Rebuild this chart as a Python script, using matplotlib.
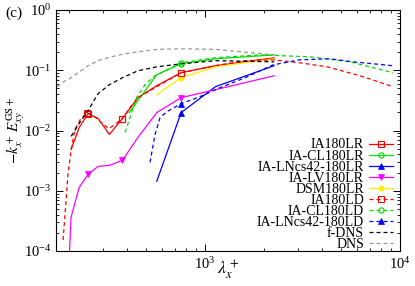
import numpy as np
import matplotlib
matplotlib.use("Agg")
import matplotlib.pyplot as plt

plt.rcParams['font.family'] = ['Liberation Serif', 'DejaVu Serif']
plt.rcParams['mathtext.fontset'] = 'stix'

# ---- data (lambda_x^+ , -k_x^+ E_xy^{GS+}) ----
lam_LR = [205.6, 226.2, 251.3, 282.8, 323.1, 377.0, 452.4, 565.5, 754.0, 1131.0, 2262.0]

ia180lr = [0.00485, 0.0112, 0.0191, 0.0158, 0.0086, 0.0158, 0.0351, 0.0554, 0.091, 0.119, 0.161]

lam_cl_lr = [408, 565.5, 754.0, 1131.0, 2262.0]
iacl180lr = [0.0198, 0.0843, 0.128, 0.155, 0.180]

lam_ln_lr = [565.5, 754.0, 1131.0, 2262.0]
ialn180lr = [0.00144, 0.0198, 0.0534, 0.119]

lam_lv_lr = [188.5, 205.6, 226.2, 251.3, 282.8, 323.1, 377.0, 452.4, 565.5, 754.0, 1131.0, 2262.0]
ialv180lr = [1e-6, 3.65e-4, 1.14e-3, 1.87e-3, 2.54e-3, 2.64e-3, 3.19e-3, 7.66e-3, 0.0198, 0.0351, 0.0476, 0.081]

lam_dsm = [565.5, 754.0, 1131.0, 2262.0]
dsm180lr = [0.0394, 0.0751, 0.114, 0.155]

lam_ia_ld = [187, 194, 198, 206, 215, 229, 248, 267, 290, 311, 322, 345, 377, 412, 453,
             567, 754, 1125, 1603, 2233, 3069, 4227, 6237, 9206]
ia180ld = [1.52e-4, 7.24e-4, 1.87e-3, 4.85e-3, 0.0104, 0.0152, 0.0198, 0.0177, 0.0141, 0.0116,
           0.0108, 0.0126, 0.0158, 0.0240, 0.0351, 0.0534, 0.0909, 0.119, 0.144, 0.149,
           0.133, 0.114, 0.0811, 0.0534]

lam_cl_ld = [389, 417, 448, 492, 554, 754, 1125, 1914, 3455, 5543, 9206]
iacl180ld = [0.00927, 0.0184, 0.0365, 0.0576, 0.0811, 0.133, 0.161, 0.180, 0.167, 0.138, 0.0909]

lam_ln_ld = [522, 554, 588, 638, 754, 943, 1194, 1603, 2233, 3069, 4375, 5741, 9206]
ialn180ld = [2.96e-3, 8.59e-3, 0.0164, 0.0206, 0.0279, 0.0365, 0.0514, 0.0751, 0.123, 0.149,
             0.155, 0.138, 0.119]

lam_fdns = [205.6, 226.2, 251.3, 282.8, 323.1, 377.0, 452.4, 565.5, 754.0, 1131.0, 2262.0]
fdns = [0.0080, 0.0131, 0.0214, 0.0409, 0.0576, 0.0751, 0.098, 0.114, 0.128, 0.144, 0.138]

lam_dns = [174.0, 188.5, 205.6, 226.2, 251.3, 282.8, 323.1, 377.0, 452.4, 565.5, 754.0, 1131.0, 2262.0]
dns = [0.0533, 0.0645, 0.075, 0.094, 0.119, 0.144, 0.164, 0.184, 0.202, 0.222, 0.227, 0.222, 0.180]

marker_lams = [251.3, 377.0, 754.0]


def mk(lams):
    return [i for i, l in enumerate(lams) if any(abs(l - m) / m < 0.03 for m in marker_lams)]


fig = plt.figure(figsize=(4.15, 2.86), dpi=100)
ax = fig.add_axes([56 / 415, (286 - 251) / 286, (400 - 56) / 415, (251 - 10) / 286])

lw = 0.9
ms = 3.8
dash = (3.2, 2.4)

red = '#ff0000'
green = '#00e000'
blue = '#0000ff'
mag = '#ff00ff'
yel = '#ffee00'

ax.plot(lam_LR, ia180lr, color=red, lw=lw, marker='s', mfc='none', ms=ms, mew=0.8,
        markevery=mk(lam_LR), label='IA180LR')
ax.plot(lam_cl_lr, iacl180lr, color=green, lw=lw, marker='o', mfc='none', ms=ms, mew=0.8,
        markevery=mk(lam_cl_lr), label='IA-CL180LR')
ax.plot(lam_ln_lr, ialn180lr, color=blue, lw=lw, marker='^', ms=ms, mew=0.5,
        markevery=mk(lam_ln_lr), label='IA-LNcs42-180LR')
ax.plot(lam_lv_lr, ialv180lr, color=mag, lw=lw, marker='v', ms=ms, mew=0.5,
        markevery=mk(lam_lv_lr), label='IA-LV180LR')
ax.plot(lam_dsm, dsm180lr, color=yel, lw=lw, marker='o', ms=ms, mew=0.5,
        markevery=mk(lam_dsm), label='DSM180LR')
ax.plot(lam_ia_ld, ia180ld, color=red, lw=lw, ls=(0, dash), marker='s', mfc='none', ms=ms,
        mew=0.8, markevery=mk(lam_ia_ld), label='IA180LD')
ax.plot(lam_cl_ld, iacl180ld, color=green, lw=lw, ls=(0, dash), marker='o', mfc='none', ms=ms,
        mew=0.8, markevery=mk(lam_cl_ld), label='IA-CL180LD')
ax.plot(lam_ln_ld, ialn180ld, color=blue, lw=lw, ls=(0, dash), marker='^', ms=ms, mew=0.5,
        markevery=mk(lam_ln_ld), label='IA-LNcs42-180LD')
ax.plot(lam_fdns, fdns, color='black', lw=lw, ls=(0, dash), label='f-DNS')
ax.plot(lam_dns, dns, color='#999999', lw=lw, ls=(0, dash), label='DNS')

ax.set_xscale('log')
ax.set_yscale('log')
ax.set_xlim(172, 1e4)
ax.set_ylim(1e-4, 1)

ax.tick_params(which='both', direction='in', top=True, right=True, labelsize=10.5)
ax.tick_params(which='major', length=5, width=0.7)
ax.tick_params(which='minor', length=2.5, width=0.6)
ax.yaxis.set_major_locator(matplotlib.ticker.LogLocator(base=10, numticks=10))
ax.yaxis.set_minor_locator(matplotlib.ticker.LogLocator(base=10, subs=np.arange(2, 10), numticks=20))
for s in ax.spines.values():
    s.set_linewidth(0.8)

ax.set_xlabel(r'$\lambda_x^+$', fontsize=13)
ax.xaxis.set_label_coords(0.5, -0.03)
ax.set_ylabel(r'$-k_x^+\,E_{xy}^{\mathrm{GS}+}$', fontsize=11)
ax.yaxis.set_label_coords(-0.085, 0.5)

fig.text(0.012, 0.955, '(c)', fontsize=11, va='center', ha='left')

leg = ax.legend(loc='lower right', bbox_to_anchor=(0.98, 0.0), frameon=False, markerfirst=False,
                fontsize=10, handlelength=1.75, handletextpad=0.35, labelspacing=-0.14,
                borderaxespad=0.0, borderpad=0.0)

fig.savefig('out.png', dpi=100)
